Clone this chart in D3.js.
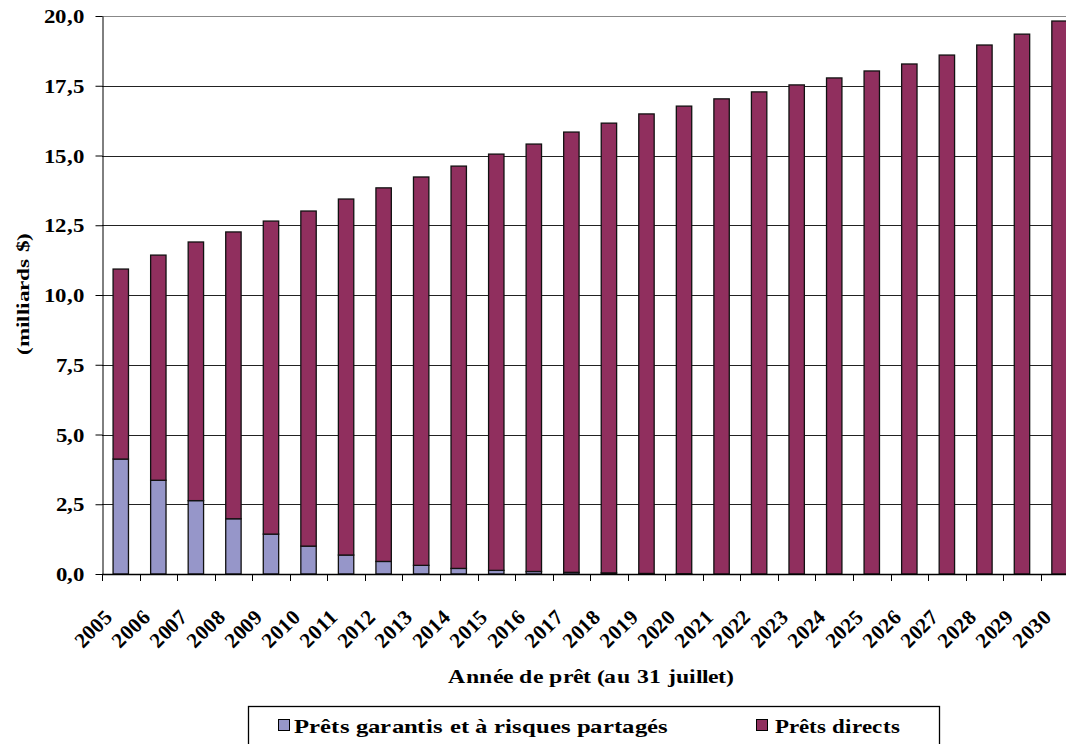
<!DOCTYPE html>
<html>
<head>
<meta charset="utf-8">
<script src="https://cdn.jsdelivr.net/npm/d3@7"></script>
<style>
  @font-face {
    font-family: "ChartSerif";
    src: local("Liberation Serif Bold"), local("LiberationSerif-Bold"), local("Tinos Bold"), local("Times New Roman Bold");
    font-weight: bold;
  }
</style>
</head>
<body style="margin:0">
<svg id="chart" width="1066" height="744"></svg>
<script>
// Loan years (as of July 31)
const years = ["2005","2006","2007","2008","2009","2010","2011","2012","2013","2014","2015","2016","2017",
               "2018","2019","2020","2021","2022","2023","2024","2025","2026","2027","2028","2029","2030"];
// Guaranteed and risk-shared loans (billions $)
const guaranteed = [4.12,3.36,2.63,1.98,1.43,1.00,0.68,0.45,0.31,0.20,0.13,0.09,0.06,
                    0.04,0.02,0.01,0,0,0,0,0,0,0,0,0,0];
// Direct loans (billions $)
const direct = [6.81,8.07,9.27,10.28,11.22,12.01,12.76,13.39,13.92,14.42,14.92,15.32,15.78,
                16.12,16.47,16.76,17.03,17.28,17.53,17.78,18.03,18.28,18.60,18.96,19.35,19.82];
const yTicks = [0, 2.5, 5, 7.5, 10, 12.5, 15, 17.5, 20];
const seriesNames = ["Prêts garantis et à risques partagés", "Prêts directs"];
const seriesColors = ["#9696c9", "#902f5e"];

const FONT = "ChartSerif, 'Liberation Serif', Tinos, 'Times New Roman', Times, serif";
const svg = d3.select("#chart");
const plotLeft = 102, plotTop = 16, plotBottom = 574;
const band = 37.55;
const x = d3.scaleBand().domain(years).range([plotLeft, plotLeft + band * years.length]).paddingInner(0.59).paddingOuter(0.295);
const xb = d3.scaleBand().domain(years).range([plotLeft, plotLeft + band * years.length]);
const y = d3.scaleLinear().domain([0, 20]).range([plotBottom, plotTop]);
const fmt = v => d3.format(".1f")(v).replace(".", ",");

// bold serif label, stretched to a set width
function label(parent, size, str, width) {
  const t = parent.append("text")
    .attr("font-family", FONT)
    .attr("font-weight", "bold")
    .attr("font-size", size)
    .style("font-family", FONT)
    .style("font-weight", "bold")
    .attr("fill", "#000")
    .text(str);
  if (width) t.attr("textLength", width).attr("lengthAdjust", "spacingAndGlyphs");
  return t;
}
// width of a number label: digits count 1, the comma half
const numWidth = s => [...s].reduce((a, c) => a + (c === "," ? 0.5 : 1), 0) * 11.4;

// gridlines
svg.append("g").selectAll("line").data(yTicks.slice(1)).join("line")
  .attr("x1", plotLeft).attr("x2", 1066)
  .attr("y1", d => Math.round(y(d)) + 0.5).attr("y2", d => Math.round(y(d)) + 0.5)
  .attr("stroke", d => d === 20 ? "#888" : "#222").attr("stroke-width", 1);

// stacked bars
const stackData = years.map((yr, i) => ({ year: yr, g: guaranteed[i], d: direct[i] }));
const stack = d3.stack().keys(["g", "d"])(stackData);
svg.append("g").selectAll("g").data(stack).join("g")
  .attr("fill", (s, i) => seriesColors[i])
  .selectAll("rect").data(s => s).join("rect")
  .attr("x", d => x(d.data.year))
  .attr("width", x.bandwidth())
  .attr("y", d => y(d[1]))
  .attr("height", d => Math.max(0, y(d[0]) - y(d[1])))
  .attr("stroke", "#111").attr("stroke-width", 1.3);

// y axis: line and ticks from d3.axisLeft, labels beside each tick
const yAxis = svg.append("g").attr("transform", `translate(${plotLeft + 0.5},0)`)
  .call(d3.axisLeft(y).tickValues(yTicks).tickFormat("").tickSize(7).tickSizeOuter(0));
yAxis.select(".domain").attr("stroke", "#000");
yAxis.selectAll(".tick line").attr("stroke", "#000");
const yLab = svg.append("g");
yTicks.forEach(v => {
  const s = fmt(v), w = numWidth(s);
  label(yLab, 20, s, w)
    .attr("x", plotLeft - 18 - w).attr("y", y(v)).attr("dy", "0.35em");
});

// x axis
svg.append("line").attr("x1", plotLeft).attr("x2", 1066).attr("y1", plotBottom + 0.5).attr("y2", plotBottom + 0.5)
  .attr("stroke", "#000").attr("stroke-width", 1.3);
svg.append("g").selectAll("line").data(years).join("line")
  .attr("x1", d => Math.round(xb(d)) + 0.5).attr("x2", d => Math.round(xb(d)) + 0.5)
  .attr("y1", plotBottom).attr("y2", plotBottom + 7).attr("stroke", "#000");
const xLab = svg.append("g");
years.forEach(yr => {
  label(xLab, 21, yr, 44)
    .attr("x", -44)
    .attr("transform", `translate(${xb(yr) + xb.bandwidth() / 2 - 7},${plotBottom + 44}) rotate(-45)`);
});

// axis titles
label(svg, 18, "(milliards $)", 122).attr("x", -61)
  .attr("transform", "translate(29,294) rotate(-90)");
label(svg, 19, "Année de prêt (au 31 juillet)", 285).attr("x", 448).attr("y", 683);

// legend
const lg = svg.append("g");
lg.append("rect").attr("x", 248.5).attr("y", 706.5).attr("width", 691).attr("height", 50)
  .attr("fill", "#fff").attr("stroke", "#000").attr("stroke-width", 1.3);
const lx = [278, 756];
const lw = [374, 125];
seriesNames.forEach((name, i) => {
  lg.append("rect").attr("x", lx[i] + 0.5).attr("y", 719.5).attr("width", 11).attr("height", 11)
    .attr("fill", seriesColors[i]).attr("stroke", "#000").attr("stroke-width", 1);
  label(lg, 20, name, lw[i]).attr("x", lx[i] + 16 + (i ? 3 : 0)).attr("y", 733);
});
</script>
</body>
</html>
